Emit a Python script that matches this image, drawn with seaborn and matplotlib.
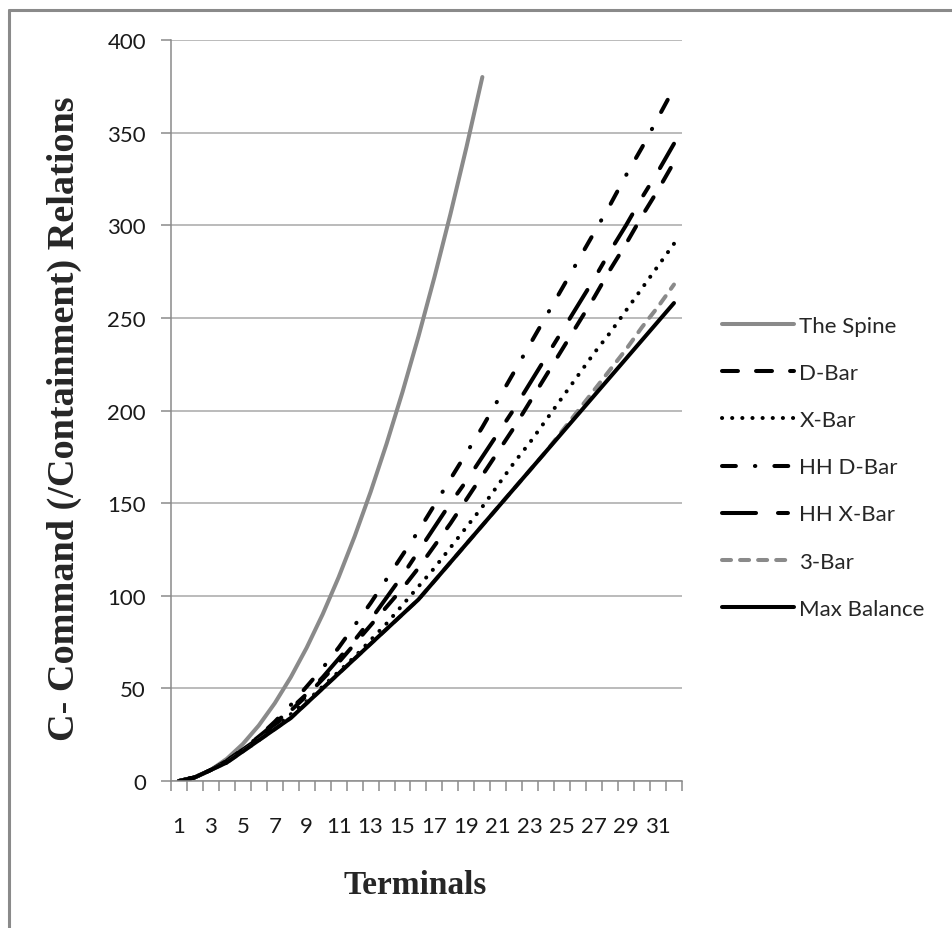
import numpy as np
import pandas as pd
import seaborn as sns
import matplotlib.pyplot as plt
from matplotlib.lines import Line2D
from matplotlib.ticker import FixedLocator, NullFormatter

# values
terminals = list(range(1, 33))
spine_terminals = list(range(1, 21))
the_spine = [0, 2, 6, 12, 20, 30, 42, 56, 72, 90, 110, 132, 156, 182, 210, 240,
             272, 306, 342, 380]
d_bar = [0, 2, 6, 11, 17, 23, 30, 38, 46, 55, 64, 74, 84, 94, 104, 115, 127, 139,
         152, 165, 178, 191, 205, 219, 233, 247, 261, 276, 290, 305, 319, 334]
x_bar = [0, 2, 6, 10, 16, 22, 29, 36, 43, 51, 59, 67, 76, 85, 95, 105, 115, 126,
         137, 148, 160, 172, 183, 195, 207, 219, 231, 242, 254, 266, 278, 290]
hh_d_bar = [0, 2, 6, 11, 17, 24, 32, 41, 51, 61, 72, 84, 96, 109, 122, 135, 149,
            163, 177, 191, 206, 221, 236, 251, 266, 281, 296, 311, 327, 342, 358, 374]
hh_x_bar = [0, 2, 6, 11, 17, 24, 31, 39, 47, 56, 66, 76, 87, 99, 111, 124, 137,
            150, 162, 175, 188, 201, 215, 229, 243, 257, 271, 286, 300, 315, 329, 344]
three_bar = [0, 2, 6, 10, 16, 22, 28, 34, 42, 50, 58, 66, 74, 82, 90, 98, 108, 118,
             128, 138, 148, 158, 168, 178, 189, 200, 211, 222, 233, 245, 256, 268]
max_balance = [0, 2, 6, 10, 16, 22, 28, 34, 42, 50, 58, 66, 74, 82, 90, 98, 108,
               118, 128, 138, 148, 158, 168, 178, 188, 198, 208, 218, 228, 238, 248, 258]

sns.set_style("white")
plt.rcParams['font.family'] = ['Lato', 'DejaVu Sans']
plt.rcParams['lines.scale_dashes'] = False

GRAY = '#8a8a8a'
fig = plt.figure(figsize=(9.53, 9.29), dpi=100)
ax = fig.add_axes([0.1794, 0.1582, 0.5362, 0.7977])

series = [
    ("The Spine", spine_terminals, the_spine, GRAY, '-'),
    ("D-Bar", terminals, d_bar, 'black', (0, (11.5, 13))),
    ("X-Bar", terminals, x_bar, 'black', (0, (0.1, 7.2))),
    ("HH D-Bar", terminals, hh_d_bar, 'black', (0, (10, 13.7, 0.3, 13.7))),
    ("HH X-Bar", terminals, hh_x_bar, 'black', (0, (24.5, 15.8, 7.2, 15.8))),
    ("3-Bar", terminals, three_bar, GRAY, (0, (6.5, 6.5))),
    ("Max Balance", terminals, max_balance, 'black', '-'),
]

for name, xs, ys, col, ls in series:
    df = pd.DataFrame({"n": xs, "rel": ys})
    sns.lineplot(data=df, x="n", y="rel", ax=ax, color=col, linewidth=2.9,
                 linestyle=ls, dash_capstyle='round', solid_capstyle='round',
                 label=name)

ax.set_xlim(0.5, 32.5)
ax.set_ylim(0, 400)
ax.set_yticks(np.arange(0, 401, 50))
ax.yaxis.grid(True, color='#a8a8a8', linewidth=1.1)
ax.set_axisbelow(True)

ax.xaxis.set_major_locator(FixedLocator(terminals))
ax.set_xticklabels([str(t) if t % 2 == 1 else '' for t in terminals])
ax.xaxis.set_minor_locator(FixedLocator(np.arange(0.5, 33, 1)))
ax.xaxis.set_minor_formatter(NullFormatter())
ax.tick_params(axis='x', which='major', length=0, pad=25, labelsize=16,
               labelcolor='#1a1a1a')
ax.tick_params(axis='x', which='minor', length=7, width=1.1, color=GRAY,
               direction='out', bottom=True)
ax.tick_params(axis='y', length=7, width=1.1, color=GRAY, direction='out',
               left=True, pad=11, labelsize=16, labelcolor='#1a1a1a')

for s in ['top', 'right']:
    ax.spines[s].set_visible(False)
for s in ['left', 'bottom']:
    ax.spines[s].set_color(GRAY)
    ax.spines[s].set_linewidth(1.1)

ax.set_xlabel("Terminals", family='Liberation Serif', fontweight='bold',
              fontsize=24)
ax.xaxis.set_label_coords(0.477, -0.119)
ax.set_ylabel("C- Command (/Containment) Relations", family='Liberation Serif',
              fontweight='bold', fontsize=27.5)
ax.yaxis.set_label_coords(-0.175, 0.49)

ax.legend(loc='upper left', bbox_to_anchor=(722 / 953, 1 - 317 / 929),
          bbox_transform=fig.transFigure, frameon=False, fontsize=16,
          handlelength=3.25, handletextpad=0.23, labelspacing=1.22, borderpad=0,
          borderaxespad=0)

# outer frame (left and top edges visible in the reference)
fig.add_artist(Line2D([9 / 953, 9 / 953], [0, 1 - 11 / 929],
                      transform=fig.transFigure, color=GRAY, lw=2.2))
fig.add_artist(Line2D([9 / 953, 1], [1 - 11 / 929, 1 - 11 / 929],
                      transform=fig.transFigure, color=GRAY, lw=2.2))

fig.savefig("out.png", dpi=100)
